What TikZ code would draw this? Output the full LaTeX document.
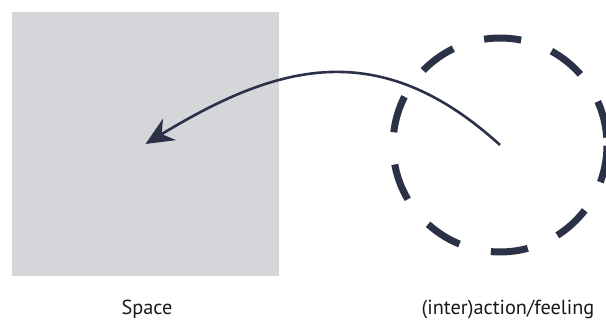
\documentclass[tikz,border=0pt]{standalone}
\usepackage{fontspec}
\setmainfont{PT Sans}
\usetikzlibrary{arrows.meta}
\definecolor{navy}{RGB}{43,50,72}
\definecolor{panel}{RGB}{212,214,218}
\begin{document}
\begin{tikzpicture}[x=1pt,y=-1pt,
 spacebox/.style={fill=panel, draw=none, minimum width=267pt, minimum height=264pt, inner sep=0pt, outer sep=0pt},
 feelring/.style={circle, draw=navy, line width=7pt, minimum size=214pt, inner sep=0pt, outer sep=0pt, dash pattern=on 37.3pt off 32.36pt, dash phase=62.2pt},
 flow/.style={draw=navy, line width=2.6pt, -{Stealth[length=28pt,width=25pt,inset=9pt]}},
 caption/.style={font=\fontsize{20.3}{24}\selectfont, text=black!90, anchor=base, inner sep=0pt}]
\useasboundingbox (0,0) rectangle (606,321);
\clip (0,0) rectangle (606,321);
\node[spacebox] (space) at (145.5,144) {};
\node[feelring] (feel) at (500,145) {};
\draw[flow] (feel.center) .. controls (379,35) and (277,64) .. (space.center);
\node[caption] (spacelabel) at (147,314.5) {Space};
\node[caption] (feellabel) at (508,314.5) {(inter)action/feeling};
\end{tikzpicture}
\end{document}
